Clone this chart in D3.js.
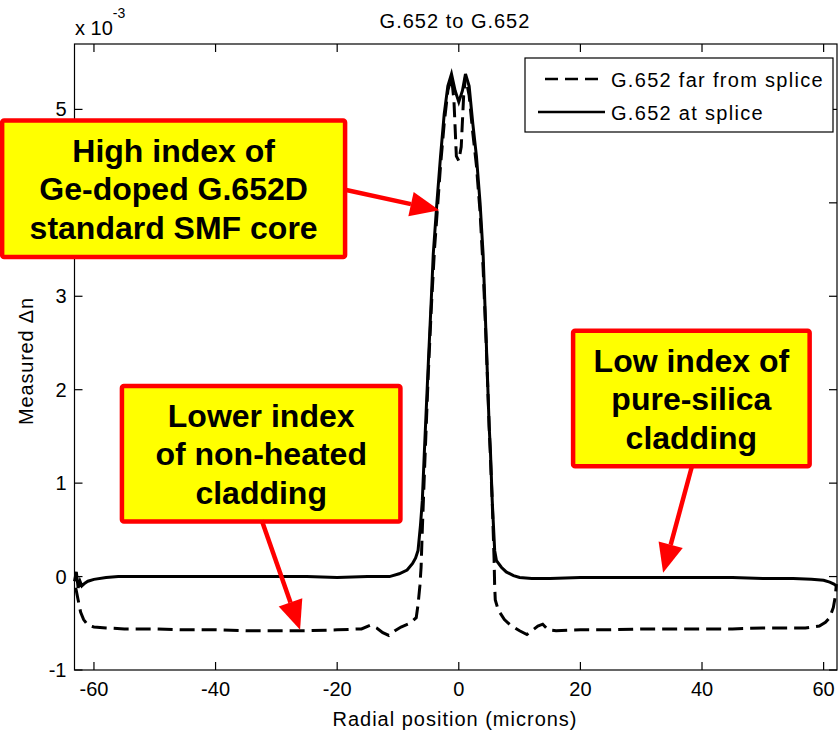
<!DOCTYPE html>
<html>
<head>
<meta charset="utf-8">
<script src="https://cdn.jsdelivr.net/npm/d3@7"></script>
<style>
  body { margin: 0; background: #fff; }
  svg text { font-family: "Liberation Sans", Arial, sans-serif; }
</style>
</head>
<body>
<div id="chart"></div>
<script>
// refractive index profile, units of 1e-3
const farX = [-63.0, -62.6, -62.2, -61.7, -61, -60, -58, -55, -50, -45, -40, -35, -30, -25, -20, -16, -14.5, -13.5, -12.5, -11.5, -10.5, -9.5, -8, -7, -6.7, -6.4, -6.2, -6.0, -5.6, -5, -4.5, -4, -3.5, -3, -2.4, -1.8, -1.2, -0.8, -0.4, 0, 0.4, 0.8, 1.1, 1.7, 2.3, 2.9, 3.5, 4, 4.5, 5, 5.5, 5.8, 5.9, 6.0, 6.5, 7.5, 8.5, 10, 11.2, 12, 13, 13.8, 14.7, 16, 20, 25, 30, 35, 40, 45, 50, 54, 57, 59.3, 60.3, 61, 61.6, 61.9, 62.1];
const farY = [-0.12, -0.25, -0.38, -0.46, -0.52, -0.54, -0.55, -0.56, -0.56, -0.57, -0.57, -0.58, -0.58, -0.58, -0.57, -0.56, -0.52, -0.55, -0.6, -0.63, -0.58, -0.54, -0.5, -0.44, -0.3, -0.1, 0.1, 0.5, 1.2, 2.2, 2.9, 3.5, 3.95, 4.4, 4.85, 5.2, 5.35, 5.1, 4.5, 4.45, 4.6, 5.15, 5.35, 5.15, 4.75, 4.4, 3.9, 3.3, 2.5, 1.6, 0.8, 0.2, -0.1, -0.25, -0.36, -0.46, -0.52, -0.58, -0.62, -0.58, -0.53, -0.51, -0.57, -0.58, -0.57, -0.57, -0.56, -0.56, -0.56, -0.56, -0.55, -0.55, -0.55, -0.53, -0.49, -0.44, -0.33, -0.22, -0.08];

const spliceX = [-63.2, -62.9, -62.6, -62.3, -62.0, -61.5, -61, -60, -58, -56, -50, -45, -40, -35, -30, -25, -20, -15, -11.4, -9.8, -8.5, -7.6, -7.1, -6.7, -6.3, -6.0, -5.65, -5.0, -4.5, -4.2, -3.6, -3.0, -2.4, -1.8, -1.2, -0.6, 0, 0.6, 1.1, 1.7, 2.3, 2.9, 3.5, 4.0, 4.5, 5.0, 5.2, 5.5, 5.9, 6.2, 7, 7.8, 9, 10, 12, 15, 20, 25, 30, 35, 40, 45, 50, 55, 58, 60, 61, 61.7, 62.1];
const spliceY = [-0.05, 0.05, -0.12, -0.05, -0.1, -0.07, -0.05, -0.03, -0.01, 0.0, 0.0, 0.0, 0.0, 0.0, 0.0, 0.0, -0.01, 0.0, 0.0, 0.03, 0.07, 0.14, 0.2, 0.28, 0.55, 0.81, 1.35, 2.3, 3.0, 3.45, 4.0, 4.5, 4.95, 5.25, 5.38, 5.2, 5.08, 5.2, 5.38, 5.25, 4.85, 4.5, 4.0, 3.45, 2.55, 1.6, 1.35, 0.81, 0.28, 0.17, 0.1, 0.05, 0.01, -0.01, -0.02, -0.02, -0.01, -0.01, -0.01, -0.01, -0.01, -0.01, -0.02, -0.02, -0.03, -0.04, -0.06, -0.08, -0.1];

const xTicks = [-60, -40, -20, 0, 20, 40, 60];
const yTicks = [-1, 0, 1, 2, 3, 4, 5];
// the "4" label sits under the first callout box in the original
const yTickLabels = ['-1', '0', '1', '2', '3', '', '5'];
const seriesNames = ['G.652 far from splice', 'G.652 at splice'];

// callouts: box corners and arrow ends in data units
const callouts = [
  { lines: ['High index of', 'Ge-doped G.652D', 'standard SMF core'], x0: -75.1, x1: -18.7, y0: 4.88, y1: 3.42, from: [-18.7, 4.14], to: [-3.2, 3.92] },
  { lines: ['Lower index', 'of non-heated', 'cladding'], x0: -55.4, x1: -9.6, y0: 2.04, y1: 0.59, from: [-32.4, 0.6], to: [-26.1, -0.57] },
  { lines: ['Low index of', 'pure-silica', 'cladding'], x0: 18.8, x1: 57.7, y0: 2.63, y1: 1.18, from: [38.3, 1.17], to: [33.6, 0.04] }
];

const width = 838, height = 732;
const margin = { left: 74.5, right: 1, top: 44, bottom: 62 };

const svg = d3.select('#chart').append('svg')
  .attr('width', width)
  .attr('height', height);

const x = d3.scaleLinear().domain([-63.2, 62.2]).range([margin.left, width - margin.right]);
const y = d3.scaleLinear().domain([-1, 5.7]).range([height - margin.bottom, margin.top]);

const tick = 8;
const axisColor = '#000';
const fontSize = 20;
const spacing = 1;

// axes box
const axes = svg.append('g');
axes.append('rect')
  .attr('x', x.range()[0]).attr('y', y.range()[1])
  .attr('width', x.range()[1] - x.range()[0])
  .attr('height', y.range()[0] - y.range()[1])
  .attr('fill', 'none').attr('stroke', axisColor).attr('stroke-width', 1.2);

xTicks.forEach(v => {
  axes.append('line').attr('x1', x(v)).attr('x2', x(v))
    .attr('y1', y.range()[0]).attr('y2', y.range()[0] - tick)
    .attr('stroke', axisColor).attr('stroke-width', 1.2);
  axes.append('line').attr('x1', x(v)).attr('x2', x(v))
    .attr('y1', y.range()[1]).attr('y2', y.range()[1] + tick)
    .attr('stroke', axisColor).attr('stroke-width', 1.2);
  axes.append('text').attr('x', x(v)).attr('y', y.range()[0] + 26)
    .attr('text-anchor', 'middle').attr('font-size', fontSize)
    .text(v);
});

yTicks.forEach((v, i) => {
  axes.append('line').attr('x1', x.range()[0]).attr('x2', x.range()[0] + tick)
    .attr('y1', y(v)).attr('y2', y(v))
    .attr('stroke', axisColor).attr('stroke-width', 1.2);
  axes.append('line').attr('x1', x.range()[1]).attr('x2', x.range()[1] - tick)
    .attr('y1', y(v)).attr('y2', y(v))
    .attr('stroke', axisColor).attr('stroke-width', 1.2);
  if (yTickLabels[i] !== '') {
    axes.append('text').attr('x', x.range()[0] - 8).attr('y', y(v) + 7)
      .attr('text-anchor', 'end').attr('font-size', fontSize)
      .text(yTickLabels[i]);
  }
});

// exponent label
const expo = svg.append('text').attr('x', 75).attr('y', 35).attr('font-size', fontSize);
expo.append('tspan').text('x 10');
expo.append('tspan').attr('dy', -17).attr('font-size', 14).text('-3');

svg.append('text').attr('x', 455).attr('y', 28)
  .attr('text-anchor', 'middle').attr('font-size', fontSize)
  .attr('letter-spacing', spacing)
  .text('G.652 to G.652');

svg.append('text').attr('x', 455).attr('y', 726)
  .attr('text-anchor', 'middle').attr('font-size', fontSize)
  .attr('letter-spacing', spacing)
  .text('Radial position (microns)');

svg.append('text')
  .attr('transform', 'translate(33,361) rotate(-90)')
  .attr('text-anchor', 'middle').attr('font-size', fontSize)
  .attr('letter-spacing', 0.8)
  .text('Measured \u0394n');

// curves
const line = d3.line().x(d => x(d[0])).y(d => y(d[1]));
const farData = farX.map((v, i) => [v, farY[i]]);
const spliceData = spliceX.map((v, i) => [v, spliceY[i]]);

svg.append('path').datum(farData)
  .attr('d', line).attr('fill', 'none')
  .attr('stroke', '#000').attr('stroke-width', 3)
  .attr('stroke-dasharray', '15,7');
svg.append('path').datum(spliceData)
  .attr('d', line).attr('fill', 'none')
  .attr('stroke', '#000').attr('stroke-width', 3);

// legend
const legend = svg.append('g');
legend.append('rect').attr('x', 525).attr('y', 58).attr('width', 308).attr('height', 74)
  .attr('fill', '#fff').attr('stroke', '#000').attr('stroke-width', 1.2);
seriesNames.forEach((name, i) => {
  const ly = 79 + i * 33;
  legend.append('line').attr('x1', 538).attr('x2', 605).attr('y1', ly).attr('y2', ly)
    .attr('stroke', '#000').attr('stroke-width', 2.5)
    .attr('stroke-dasharray', i === 0 ? '13,7' : null)
    .attr('stroke-dashoffset', i === 0 ? -7 : null);
  legend.append('text').attr('x', 611).attr('y', ly + 8)
    .attr('font-size', fontSize).attr('letter-spacing', 1.3)
    .text(name);
});

// callout boxes and arrows
const notes = svg.append('g');
callouts.forEach(c => {
  notes.append('rect')
    .attr('x', x(c.x0)).attr('y', y(c.y0))
    .attr('width', x(c.x1) - x(c.x0)).attr('height', y(c.y1) - y(c.y0))
    .attr('rx', 2)
    .attr('fill', '#ffff00').attr('stroke', '#ff0000').attr('stroke-width', 4.5);
  const cx = (x(c.x0) + x(c.x1)) / 2;
  c.lines.forEach((t, i) => {
    notes.append('text').attr('x', cx).attr('y', y(c.y0) + 41 + i * 38.5)
      .attr('text-anchor', 'middle').attr('font-size', 32).attr('font-weight', 'bold')
      .text(t);
  });

  const x1 = x(c.from[0]), y1 = y(c.from[1]);
  const x2 = x(c.to[0]), y2 = y(c.to[1]);
  const ang = Math.atan2(y2 - y1, x2 - x1);
  const headLen = 29, headHalf = 12.5;
  const bx = x2 - headLen * Math.cos(ang), by = y2 - headLen * Math.sin(ang);
  notes.append('line').attr('x1', x1).attr('y1', y1).attr('x2', bx).attr('y2', by)
    .attr('stroke', '#ff0000').attr('stroke-width', 4.5);
  const px = -Math.sin(ang) * headHalf, py = Math.cos(ang) * headHalf;
  notes.append('polygon')
    .attr('points', [[x2, y2], [bx + px, by + py], [bx - px, by - py]].map(p => p.join(',')).join(' '))
    .attr('fill', '#ff0000');
});
</script>
</body>
</html>
